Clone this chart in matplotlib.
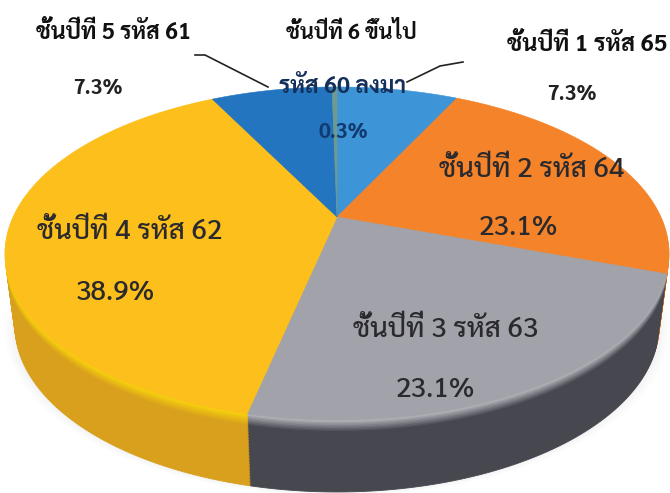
import numpy as np
import matplotlib
matplotlib.use('Agg')
import matplotlib.pyplot as plt
from matplotlib.patches import Polygon
from matplotlib.colors import to_rgb

plt.rcParams['font.family'] = ['Sarabun', 'Anuphan', 'Chakra Petch', 'DejaVu Sans']

# ข้อมูล (clockwise from the top)
labels = ['ชั้นปีที่ 1 รหัส 65', 'ชั้นปีที่ 2 รหัส 64', 'ชั้นปีที่ 3 รหัส 63',
          'ชั้นปีที่ 4 รหัส 62', 'ชั้นปีที่ 5 รหัส 61', 'ชั้นปีที่ 6 ขึ้นไป']
label6_line2 = 'รหัส 60 ลงมา'
values = [7.3, 23.1, 23.1, 38.9, 7.3, 0.3]

top_colors = ['#3D94D6', '#F5832A', '#A2A2AB', '#FCBF1C', '#2475C0', '#6F9A8F']
side_colors = ['#2A6CA0', '#B9651F', '#46474F', '#D8A01C', '#1B5A95', '#4F7268']
rim_colors = ['#5AAAE4', '#FF9A3C', '#BDBDC4', '#FAD40C', '#3D8CD6', '#85AFA3']


def project(pts, depth=0.0):
    # tilt the unit circle like the 3d pie, apex sits above ellipse centre
    k = 0.219
    w = 1 + k * pts[:, 1]
    squeeze = 1 - 0.03 * depth / 72.0
    x = 337 + 324 * squeeze * pts[:, 0] / w
    y = (217 - 111 * pts[:, 1]) / w + depth
    return np.column_stack([x, y])


fig = plt.figure(figsize=(6.7, 4.93), dpi=100)
ax = fig.add_axes([0, 0, 1, 1])

wedges, _ = ax.pie(values, startangle=90, counterclock=False, radius=1)
shapes = []
for wd in wedges:
    th = np.radians(np.linspace(wd.theta1, wd.theta2, 120))
    arc = np.column_stack([np.cos(th), np.sin(th)])
    shapes.append(np.vstack([[0, 0], arc]))
    wd.remove()

ax.set_aspect('auto')
ax.set_xlim(0, 670)
ax.set_ylim(493, 0)
ax.axis('off')

# soft shadow under the pie
for grow in [10, 7, 4, 2]:
    for pts in shapes:
        p = project(pts, 72)
        p[:, 0] = 337 + (p[:, 0] - 337) * (1 + grow / 320.0)
        p[:, 1] = p[:, 1] + grow * 0.4
        ax.add_patch(Polygon(p, closed=True, fc='#000000', ec='none', alpha=0.012))

# side wall, bottom layer first
depths = np.arange(72, 0, -1.5)
for d in depths:
    # rim highlight close to the top face
    t = min(d / 12.0, 1.0)
    for pts, sc, rc in zip(shapes, side_colors, rim_colors):
        col = np.array(to_rgb(rc)) * (1 - t) + np.array(to_rgb(sc)) * t
        ax.add_patch(Polygon(project(pts, d), closed=True, fc=col, ec=col, lw=0.6))

# top face
for pts, c in zip(shapes, top_colors):
    ax.add_patch(Polygon(project(pts), closed=True, fc=c, ec=c, lw=0.4))

# leader lines
ax.plot([195, 205, 268], [55, 55, 87], color='#222222', lw=1.2)
ax.plot([407, 440, 463], [82, 66, 62], color='#222222', lw=1.2)

dark = '#2A2A2E'
ax.text(113, 33, labels[4], fontsize=16.5, fontweight='bold', color='#111111', ha='center', va='center')
ax.text(98, 88, '7.3%', fontsize=15, fontweight='bold', color='#222222', ha='center', va='center')
ax.text(351, 33, labels[5], fontsize=15.5, fontweight='bold', color='#111111', ha='center', va='center')
ax.text(343, 87, label6_line2, fontsize=16.5, fontweight='bold', color='#14305A', ha='center', va='center')
ax.text(343, 133, '0.3%', fontsize=15, fontweight='bold', color='#123A6E', ha='center', va='center')
ax.text(587, 45, labels[0], fontsize=17, fontweight='bold', color='#111111', ha='center', va='center')
ax.text(572, 95, '7.3%', fontsize=15, fontweight='bold', color='#222222', ha='center', va='center')
ax.text(532, 170, labels[1], fontsize=20, fontweight='medium', color=dark, ha='center', va='center')
ax.text(518, 228, '23.1%', fontsize=20, fontweight='medium', color=dark, ha='center', va='center')
ax.text(446, 330, labels[2], fontsize=20, fontweight='medium', color=dark, ha='center', va='center')
ax.text(435, 390, '23.1%', fontsize=20, fontweight='medium', color=dark, ha='center', va='center')
ax.text(130, 232, labels[3], fontsize=20, fontweight='medium', color=dark, ha='center', va='center')
ax.text(115, 293, '38.9%', fontsize=20, fontweight='medium', color=dark, ha='center', va='center')

fig.savefig('out.png', dpi=100)
